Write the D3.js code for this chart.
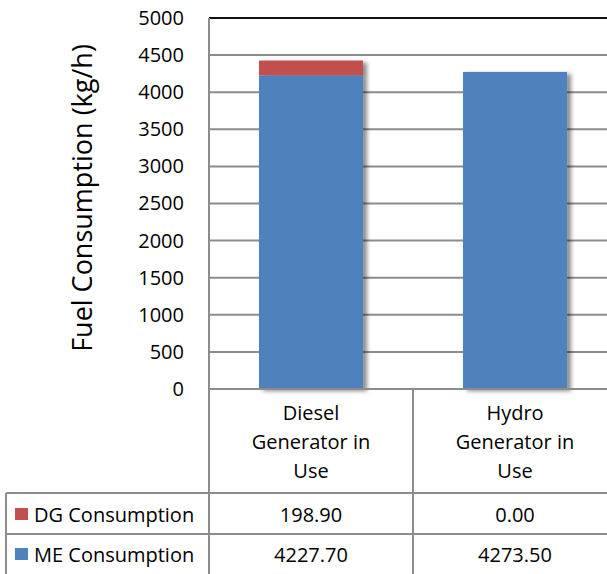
<!DOCTYPE html>
<html>
<head>
<meta charset="utf-8">
<script src="https://cdn.jsdelivr.net/npm/d3@7"></script>
<style>
  html, body { margin: 0; padding: 0; background: #fff; }
  svg { display: block; font-family: "Open Sans", "Liberation Sans", sans-serif; }
</style>
</head>
<body>
<svg id="chart" width="607" height="574"></svg>
<script>
// Fuel consumption per operating mode (stacked columns with a data table)
const categories = ["Diesel Generator in Use", "Hydro Generator in Use"];
const categoryLines = [["Diesel", "Generator in", "Use"], ["Hydro", "Generator in", "Use"]];
const seriesNames = ["ME Consumption", "DG Consumption"];
const meConsumption = [4227.70, 4273.50];
const dgConsumption = [198.90, 0.00];
const yTicks = [0, 500, 1000, 1500, 2000, 2500, 3000, 3500, 4000, 4500, 5000];

const colors = { "ME Consumption": "#4F81BD", "DG Consumption": "#C0504D" };
const gridColor = "#8c8c8c";

const svg = d3.select("#chart");
const W = 607, H = 574;
const plot = { left: 209, right: 617, top: 18, bottom: 389 };
const rows = { header: 389, dg: 493, me: 534 };

const x = d3.scaleBand().domain(categories).range([plot.left, plot.right]).paddingInner(0).paddingOuter(0);
const y = d3.scaleLinear().domain([0, 5000]).range([plot.bottom, plot.top]);

// shadow behind columns
const defs = svg.append("defs");
const f = defs.append("filter").attr("id", "shadow").attr("x", "-20%").attr("y", "-20%").attr("width", "150%").attr("height", "140%");
f.append("feDropShadow").attr("dx", 4).attr("dy", 2).attr("stdDeviation", 2.2)
  .attr("flood-color", "#000").attr("flood-opacity", 0.45);

// gridlines
svg.append("g").selectAll("line").data(yTicks.filter(d => d > 0 && d < 5000)).join("line")
  .attr("x1", plot.left).attr("x2", W)
  .attr("y1", d => y(d)).attr("y2", d => y(d))
  .attr("stroke", gridColor).attr("stroke-width", 2);

// top border of plot area
svg.append("line").attr("x1", plot.left).attr("x2", W)
  .attr("y1", y(5000)).attr("y2", y(5000)).attr("stroke", "#111").attr("stroke-width", 2);

// stacked data
const tableData = categories.map((c, i) => ({ cat: c, "ME Consumption": meConsumption[i], "DG Consumption": dgConsumption[i] }));
const stack = d3.stack().keys(seriesNames)(tableData);

const barW = x.bandwidth() * 0.51;
const bars = svg.append("g").attr("filter", "url(#shadow)");
bars.selectAll("g").data(stack).join("g")
  .attr("fill", d => colors[d.key])
  .selectAll("rect").data(d => d).join("rect")
  .attr("x", d => x(d.data.cat) + (x.bandwidth() - barW) / 2)
  .attr("width", barW)
  .attr("y", d => y(d[1]))
  .attr("height", d => Math.max(0, y(d[0]) - y(d[1])));

// y axis ticks
const yAxis = d3.axisLeft(y).tickValues(yTicks).tickFormat(d3.format("d")).tickSize(0).tickPadding(25);
const ya = svg.append("g").attr("transform", `translate(${plot.left},0)`).call(yAxis);
ya.select(".domain").remove();
ya.selectAll("text").attr("font-size", 20).attr("fill", "#000")
  .attr("font-family", "'Open Sans', sans-serif");

// y axis title
svg.append("text")
  .attr("transform", `translate(92,198) rotate(-90)`)
  .attr("text-anchor", "middle")
  .attr("font-size", 27).attr("fill", "#000")
  .text("Fuel Consumption (kg/h)");

// data table lines
const tl = svg.append("g").attr("stroke", gridColor).attr("stroke-width", 2);
tl.append("line").attr("x1", plot.left).attr("x2", plot.left).attr("y1", plot.top).attr("y2", H);
tl.append("line").attr("x1", plot.left).attr("x2", W).attr("y1", plot.bottom).attr("y2", plot.bottom);
categories.slice(1).forEach(c => {
  tl.append("line").attr("x1", x(c)).attr("x2", x(c)).attr("y1", rows.header).attr("y2", H);
});
tl.append("line").attr("x1", 6).attr("x2", W).attr("y1", rows.dg).attr("y2", rows.dg);
tl.append("line").attr("x1", 6).attr("x2", W).attr("y1", rows.me).attr("y2", rows.me);
tl.append("line").attr("x1", 6).attr("x2", 6).attr("y1", rows.dg).attr("y2", H);

// category headers
const hdr = svg.append("g").attr("font-size", 20).attr("text-anchor", "middle").attr("fill", "#000");
categories.forEach((c, i) => {
  categoryLines[i].forEach((ln, j) => {
    hdr.append("text").attr("x", x(c) + x.bandwidth() / 2).attr("y", 420 + j * 29).text(ln);
  });
});

// value rows (legend key + values)
const rowSpec = [
  { key: "DG Consumption", vals: dgConsumption, cy: 514 },
  { key: "ME Consumption", vals: meConsumption, cy: 554 }
];
const vr = svg.append("g").attr("font-size", 20).attr("fill", "#000");
rowSpec.forEach(r => {
  vr.append("rect").attr("x", 15).attr("y", r.cy - 6).attr("width", 13).attr("height", 12).attr("fill", colors[r.key]);
  vr.append("text").attr("x", 34).attr("y", r.cy).attr("dominant-baseline", "central").text(r.key);
  categories.forEach((c, i) => {
    vr.append("text").attr("x", x(c) + x.bandwidth() / 2).attr("y", r.cy)
      .attr("text-anchor", "middle").attr("dominant-baseline", "central")
      .text(r.vals[i].toFixed(2));
  });
});
</script>
</body>
</html>
